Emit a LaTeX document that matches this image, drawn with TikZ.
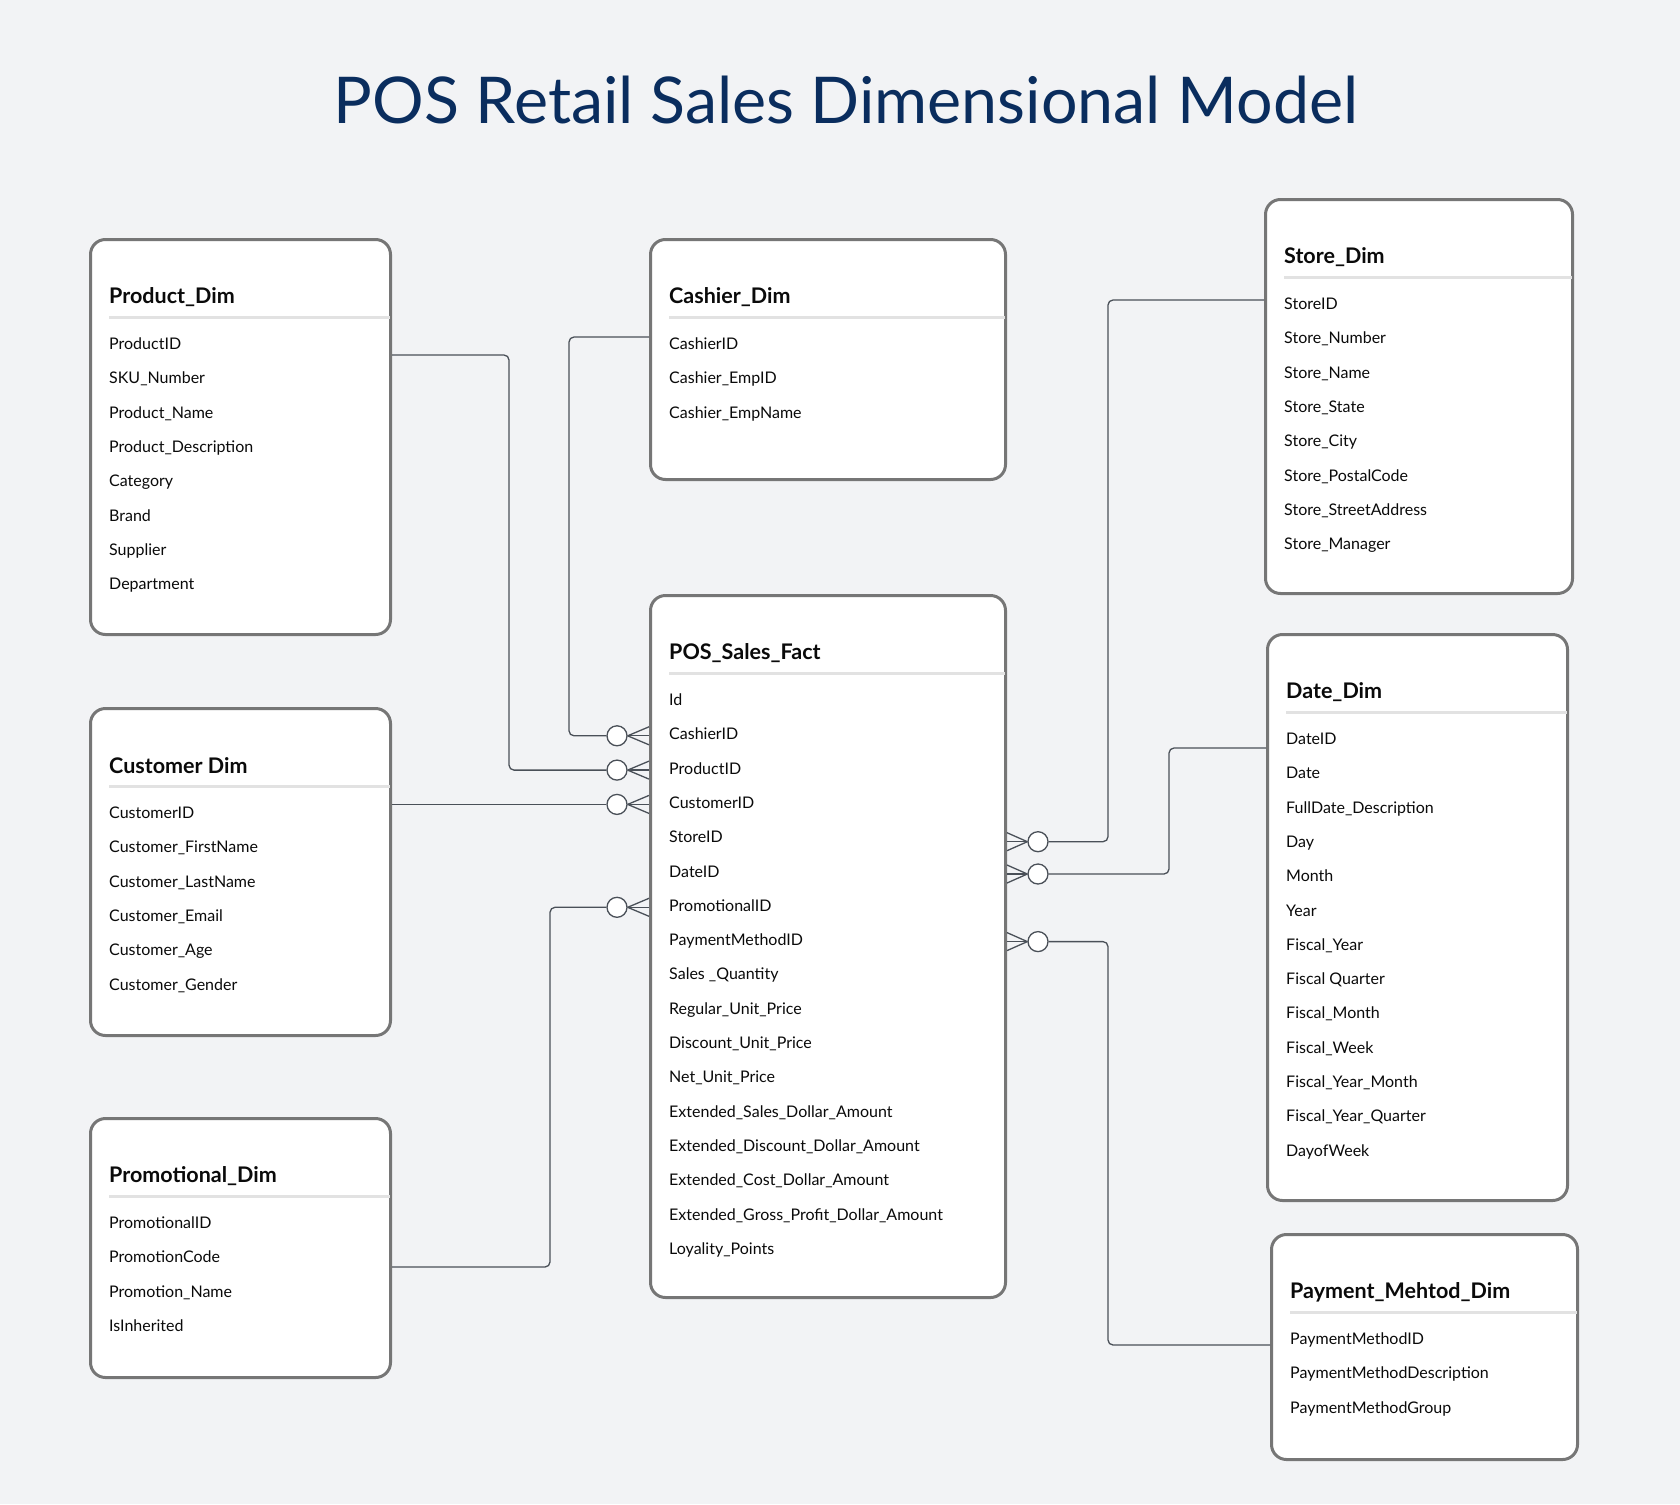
\documentclass[tikz,border=0pt]{standalone}
\usepackage{fontspec}
\setmainfont{Lato}
\usetikzlibrary{calc, positioning}

\definecolor{pagebg}{HTML}{F2F3F5}
\definecolor{boxline}{HTML}{767676}
\definecolor{sepgray}{HTML}{E2E2E2}
\definecolor{relgray}{HTML}{4A5058}
\definecolor{navy}{HTML}{0A2D5E}
\definecolor{inkblack}{HTML}{0A0A0A}

% table: name, x, y (top left), width, height, title, fields
\newcommand{\ertable}[7]{%
  \node[tablebox, minimum width=#4, minimum height=#5] (#1) at (#2,#3) {};
  \node[tabletitle] (#1-title) at ([xshift=20pt, yshift=-59pt]#1.north west) {#6};
  \draw[sepline] ([xshift=20pt, yshift=-79pt]#1.north west)
    -- ([xshift=-2.5pt, yshift=-79pt]#1.north east);
  \foreach \f [count=\i] in {#7}
    \node[fieldtext] (#1-\i) at ([xshift=20pt, yshift={-107.5pt-34.3pt*(\i-1)}]#1.north west) {\f};
}

% crow's foot between a circle and the fact table edge
\newcommand{\crowfoot}[3]{%
  \foreach \dy in {-9pt,0pt,9pt}
    \draw[rel, rounded corners=0pt] (#1.#2) -- ($(#1.#2 -| fact.#3)+(0,\dy)$);
}

\begin{document}
\begin{tikzpicture}[x=1pt, y=-1pt,
    tablebox/.style={draw=boxline, line width=3pt, fill=white,
      rounded corners=15pt, anchor=north west},
    tabletitle/.style={font=\fontsize{21.5}{26}\selectfont\bfseries, text=inkblack,
      anchor=west, inner sep=0pt},
    fieldtext/.style={font=\fontsize{16}{19}\selectfont, text=inkblack,
      anchor=west, inner sep=0pt, text height=11.5pt, text depth=3.5pt},
    sepline/.style={draw=sepgray, line width=3pt},
    rel/.style={draw=relgray, line width=1.3pt, rounded corners=5pt},
    optional/.style={circle, draw=relgray, line width=1.3pt, fill=white,
      minimum size=20pt, inner sep=0pt}]

  \useasboundingbox (0,0) rectangle (1680,1504);
  \fill[pagebg] (0,0) rectangle (1680,1504);

  \node[font=\fontsize{64.5}{76}\selectfont, text=navy] (heading) at (846,100)
    {POS Retail Sales Dimensional Model};

  % Dimension tables
  \ertable{product}{89}{238}{300pt}{395pt}{Product\_Dim}
    {ProductID, SKU\_Number, Product\_Name, Product\_Description, Category,
     Brand, Supplier, Department}
  \ertable{cashier}{649}{238}{355pt}{240pt}{Cashier\_Dim}
    {CashierID, Cashier\_EmpID, Cashier\_EmpName}
  \ertable{store}{1264}{198}{307pt}{394pt}{Store\_Dim}
    {StoreID, Store\_Number, Store\_Name, Store\_State, Store\_City,
     Store\_PostalCode, Store\_StreetAddress, Store\_Manager}
  \ertable{customer}{89}{707}{300pt}{327pt}{Customer Dim}
    {CustomerID, Customer\_FirstName, Customer\_LastName, Customer\_Email,
     Customer\_Age, Customer\_Gender}
  \ertable{date}{1266}{633}{300pt}{566pt}{Date\_Dim}
    {DateID, Date, FullDate\_Description, Day, Month, Year, Fiscal\_Year,
     Fiscal Quarter, Fiscal\_Month, Fiscal\_Week, Fiscal\_Year\_Month,
     Fiscal\_Year\_Quarter, DayofWeek}
  \ertable{promo}{89}{1117}{300pt}{259pt}{Promotional\_Dim}
    {PromotionalID, PromotionCode, Promotion\_Name, IsInherited}
  \ertable{payment}{1270}{1233}{306pt}{225pt}{Payment\_Mehtod\_Dim}
    {PaymentMethodID, PaymentMethodDescription, PaymentMethodGroup}

  % Fact table
  \ertable{fact}{649}{594}{355pt}{702pt}{POS\_Sales\_Fact}
    {Id, CashierID, ProductID, CustomerID, StoreID, DateID, PromotionalID,
     PaymentMethodID, Sales \_Quantity, Regular\_Unit\_Price,
     Discount\_Unit\_Price, Net\_Unit\_Price, Extended\_Sales\_Dollar\_Amount,
     Extended\_Discount\_Dollar\_Amount, Extended\_Cost\_Dollar\_Amount,
     Extended\_Gross\_Profit\_Dollar\_Amount, Loyality\_Points}

  % zero-or-many ends
  \node[optional] (o-cashier)  at ($(fact.west |- fact-2)+(-32pt,0)$) {};
  \node[optional] (o-product)  at ($(fact.west |- fact-3)+(-32pt,0)$) {};
  \node[optional] (o-customer) at ($(fact.west |- fact-4)+(-32pt,0)$) {};
  \node[optional] (o-promo)    at ($(fact.west |- fact-7)+(-32pt,0)$) {};
  \node[optional] (o-store)    at ($(fact.east |- fact-5)+(31pt,-3pt)$) {};
  \node[optional] (o-date)     at ($(fact.east |- fact-6)+(31pt,-1pt)$) {};
  \node[optional] (o-payment)  at ($(fact.east |- fact-8)+(31pt,0)$) {};

  \crowfoot{o-cashier}{east}{west}
  \crowfoot{o-product}{east}{west}
  \crowfoot{o-customer}{east}{west}
  \crowfoot{o-promo}{east}{west}
  \crowfoot{o-store}{west}{east}
  \crowfoot{o-date}{west}{east}
  \crowfoot{o-payment}{west}{east}

  % dimension side ends
  \coordinate (k-cashier)  at ($(cashier.north west)+(0,-99pt)$);
  \coordinate (k-product)  at ($(product.north east)+(0,-117pt)$);
  \coordinate (k-customer) at (customer.east |- o-customer);
  \coordinate (k-promo)    at ($(promo.north east)+(0,-150pt)$);
  \coordinate (k-store)    at ($(store.north west)+(0,-102pt)$);
  \coordinate (k-date)     at ($(date.north west)+(0,-115pt)$);
  \coordinate (k-payment)  at ($(payment.north west)+(0,-112pt)$);

  % relationships
  \draw[rel] (k-cashier) -| ([xshift=-48pt]o-cashier.center) -- (o-cashier);
  \draw[rel] (k-product) -| ([xshift=-108pt]o-product.center) -- (o-product);
  \draw[rel] (k-customer) -- (o-customer);
  \draw[rel] (k-promo) -| ([xshift=-67pt]o-promo.center) -- (o-promo);
  \draw[rel] (o-store) -| ([xshift=-156pt]k-store) -- (k-store);
  \draw[rel] (o-date) -| ([xshift=-97pt]k-date) -- (k-date);
  \draw[rel] (o-payment) -| ([xshift=-162pt]k-payment) -- (k-payment);
\end{tikzpicture}
\end{document}
